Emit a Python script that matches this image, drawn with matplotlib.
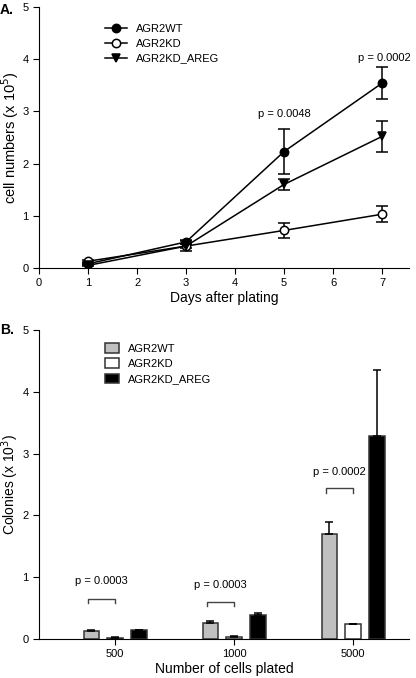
import numpy as np
import matplotlib.pyplot as plt

# Panel A: cell growth
days = [1, 3, 5, 7]
wt_mean = [0.08, 0.50, 2.23, 3.54]
wt_err = [0.02, 0.04, 0.43, 0.31]
kd_mean = [0.13, 0.42, 0.72, 1.03]
kd_err = [0.02, 0.04, 0.14, 0.15]
areg_mean = [0.05, 0.42, 1.60, 2.52]
areg_err = [0.02, 0.10, 0.10, 0.29]

# Panel B: colonies
cells_plated = ["500", "1000", "5000"]
col_wt = [0.13, 0.26, 1.70]
col_wt_err = [0.02, 0.03, 0.20]
col_kd = [0.02, 0.04, 0.24]
col_kd_err = [0.005, 0.01, 0.01]
col_areg = [0.14, 0.39, 3.28]
col_areg_err = [0.01, 0.03, 1.07]

plt.rcParams['font.family'] = ['Liberation Sans', 'DejaVu Sans']

fig = plt.figure(figsize=(4.16, 6.78), dpi=100)

# ---------------- Panel A ----------------
ax1 = fig.add_axes([0.094, 0.6047, 0.889, 0.385])
series = [(wt_mean, wt_err, 'o', 'black', 'AGR2WT'),
          (kd_mean, kd_err, 'o', 'white', 'AGR2KD'),
          (areg_mean, areg_err, 'v', 'black', 'AGR2KD_AREG')]
for mean, err, mk, fc, lab in series:
    ax1.errorbar(days, mean, yerr=err, fmt='none', ecolor='black', elinewidth=1.1,
                 capsize=4.5, capthick=1.1)
    ax1.plot(days, mean, color='black', lw=1.1, marker=mk, mfc=fc, mec='black',
             markersize=6, mew=1.1, label=lab)

ax1.set_xlim(0, 7.55)
ax1.set_ylim(0, 5)
ax1.set_xticks(range(8))
ax1.set_yticks(range(6))
ax1.spines['top'].set_visible(False)
ax1.spines['right'].set_visible(False)
ax1.tick_params(direction='out', labelsize=8, length=4)
ax1.set_xlabel('Days after plating', fontsize=10, labelpad=2)
ax1.set_ylabel('cell numbers (x 10$^5$)', fontsize=10.5)
ax1.yaxis.set_label_coords(-0.048, 0.5)
ax1.text(5, 2.85, 'p = 0.0048', ha='center', va='bottom', fontsize=8)
ax1.text(7.05, 3.92, 'p = 0.0002', ha='center', va='bottom', fontsize=8)
ax1.legend(loc='upper left', bbox_to_anchor=(0.15, 0.975), frameon=False, fontsize=8,
           handlelength=2.0, labelspacing=0.45)
fig.text(0.0, 0.985, 'A.', fontsize=10, fontweight='bold', va='center')

# ---------------- Panel B ----------------
ax2 = fig.add_axes([0.094, 0.0575, 0.889, 0.4558])
x = np.arange(len(cells_plated))
w = 0.13
off = 0.2
ek = dict(capsize=3, elinewidth=1.1, capthick=1.1, ecolor='black')
ax2.bar(x - off, col_wt, w, color='#c0c0c0', edgecolor='#333333', lw=1.1, label='AGR2WT')
ax2.errorbar(x - off, col_wt, yerr=[np.zeros(3), col_wt_err], fmt='none', **ek)
ax2.bar(x, col_kd, w, color='white', edgecolor='#333333', lw=1.1, label='AGR2KD')
ax2.errorbar(x, col_kd, yerr=[np.zeros(3), col_kd_err], fmt='none', **ek)
ax2.bar(x + off, col_areg, w, color='black', edgecolor='#333333', lw=1.1, label='AGR2KD_AREG')
ax2.errorbar(x + off, col_areg, yerr=[np.zeros(3), col_areg_err], fmt='none', **ek)

ax2.set_xlim(-0.64, 2.47)
ax2.set_ylim(0, 5)
ax2.set_xticks(x)
ax2.set_xticklabels(cells_plated)
ax2.set_yticks(range(6))
ax2.spines['top'].set_visible(False)
ax2.spines['right'].set_visible(False)
ax2.tick_params(direction='out', labelsize=8, length=4)
ax2.set_xlabel('Number of cells plated', fontsize=10, labelpad=2)
ax2.set_ylabel('Colonies (x 10$^3$)', fontsize=10)
ax2.yaxis.set_label_coords(-0.048, 0.5)

brackets = [(0, 0.65, 0.85), (1, 0.60, 0.80), (2, 2.44, 2.62)]
for i, yb, yt in brackets:
    x0, x1 = i - off - 0.03, i
    ax2.plot([x0, x0, x1, x1], [yb - 0.07, yb, yb, yb - 0.07], color='#444444', lw=1.0)
    ax2.text((x0 + x1) / 2, yt, 'p = 0.0003' if i < 2 else 'p = 0.0002',
             ha='center', va='bottom', fontsize=8)

ax2.legend(loc='upper left', bbox_to_anchor=(0.15, 0.99), frameon=False, fontsize=8,
           handlelength=1.3, handleheight=1.0, labelspacing=0.4)
fig.text(0.0, 0.514, 'B.', fontsize=10, fontweight='bold', va='center')

fig.savefig('out.png', dpi=100)
